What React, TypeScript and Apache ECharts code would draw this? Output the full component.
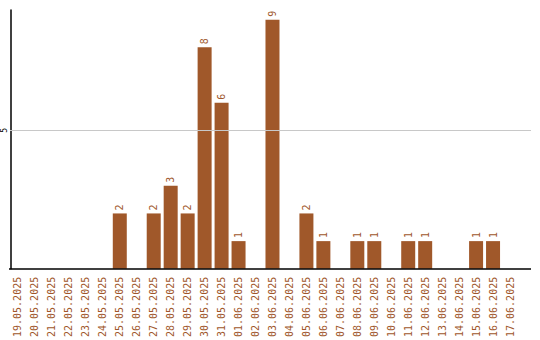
import React, { useEffect, useRef } from "react";
import * as echarts from "echarts";

const categories = [
  "19.05.2025", "20.05.2025", "21.05.2025", "22.05.2025", "23.05.2025", "24.05.2025",
  "25.05.2025", "26.05.2025", "27.05.2025", "28.05.2025", "29.05.2025", "30.05.2025",
  "31.05.2025", "01.06.2025", "02.06.2025", "03.06.2025", "04.06.2025", "05.06.2025",
  "06.06.2025", "07.06.2025", "08.06.2025", "09.06.2025", "10.06.2025", "11.06.2025",
  "12.06.2025", "13.06.2025", "14.06.2025", "15.06.2025", "16.06.2025", "17.06.2025",
];
const values = [0, 0, 0, 0, 0, 0, 2, 0, 2, 3, 2, 8, 6, 1, 0, 9, 0, 2, 1, 0, 1, 1, 0, 1, 1, 0, 0, 1, 1, 0];
const yMax = 9.35;
const gridValue = 5;

const BROWN = "#a0562b";
const FONT = "'DejaVu Sans Mono', 'Liberation Mono', monospace";

export default function App() {
  const ref = useRef<HTMLDivElement>(null);
  useEffect(() => {
    if (!ref.current) return;
    const chart = echarts.init(ref.current, undefined, { renderer: "svg" });
    chart.setOption({
      animation: false,
      grid: { left: 8.5, right: 21.5, top: 10, bottom: 70, containLabel: false },
      xAxis: {
        type: "category",
        data: categories,
        axisLine: { show: false },
        axisTick: { show: false },
        axisLabel: {
          interval: 0,
          rotate: 90,
          margin: 8,
          color: BROWN,
          fontFamily: FONT,
          fontSize: 10,
        },
      },
      yAxis: {
        type: "value",
        min: 0,
        max: yMax,
        interval: 5,
        offset: -1.5,
        splitLine: { show: false },
        axisLine: { show: true, lineStyle: { color: "#000", width: 1.5 } },
        axisTick: { show: false },
        axisLabel: {
          rotate: 90,
          margin: 3,
          color: "#000",
          fontFamily: FONT,
          fontSize: 8,
          formatter: (v: number) => (v === gridValue ? String(v) : ""),
        },
      },
      series: [
        {
          type: "bar",
          data: values,
          barWidth: 14,
          itemStyle: { color: "#a0582a" },
          label: {
            show: true,
            position: "top",
            rotate: 90,
            align: "left",
            verticalAlign: "middle",
            distance: 3,
            color: BROWN,
            fontFamily: FONT,
            fontSize: 10,
            formatter: (p: any) => (p.value > 0 ? String(p.value) : ""),
          },
          markLine: {
            silent: true,
            symbol: "none",
            label: { show: false },
            data: [
              [
                { x: 10, yAxis: gridValue, lineStyle: { color: "#c8c8c8", type: "solid", width: 1 } },
                { x: 531, yAxis: gridValue },
              ],
              [
                { x: 9, yAxis: 0, lineStyle: { color: "#000", type: "solid", width: 1.5 } },
                { x: 531, yAxis: 0 },
              ],
            ],
          },
          z: 3,
        },
      ],
    });
    return () => chart.dispose();
  }, []);
  return (
    <div
      ref={ref}
      style={{ position: "fixed", left: 0, top: 0, width: 540, height: 340, background: "#fff" }}
    />
  );
}
